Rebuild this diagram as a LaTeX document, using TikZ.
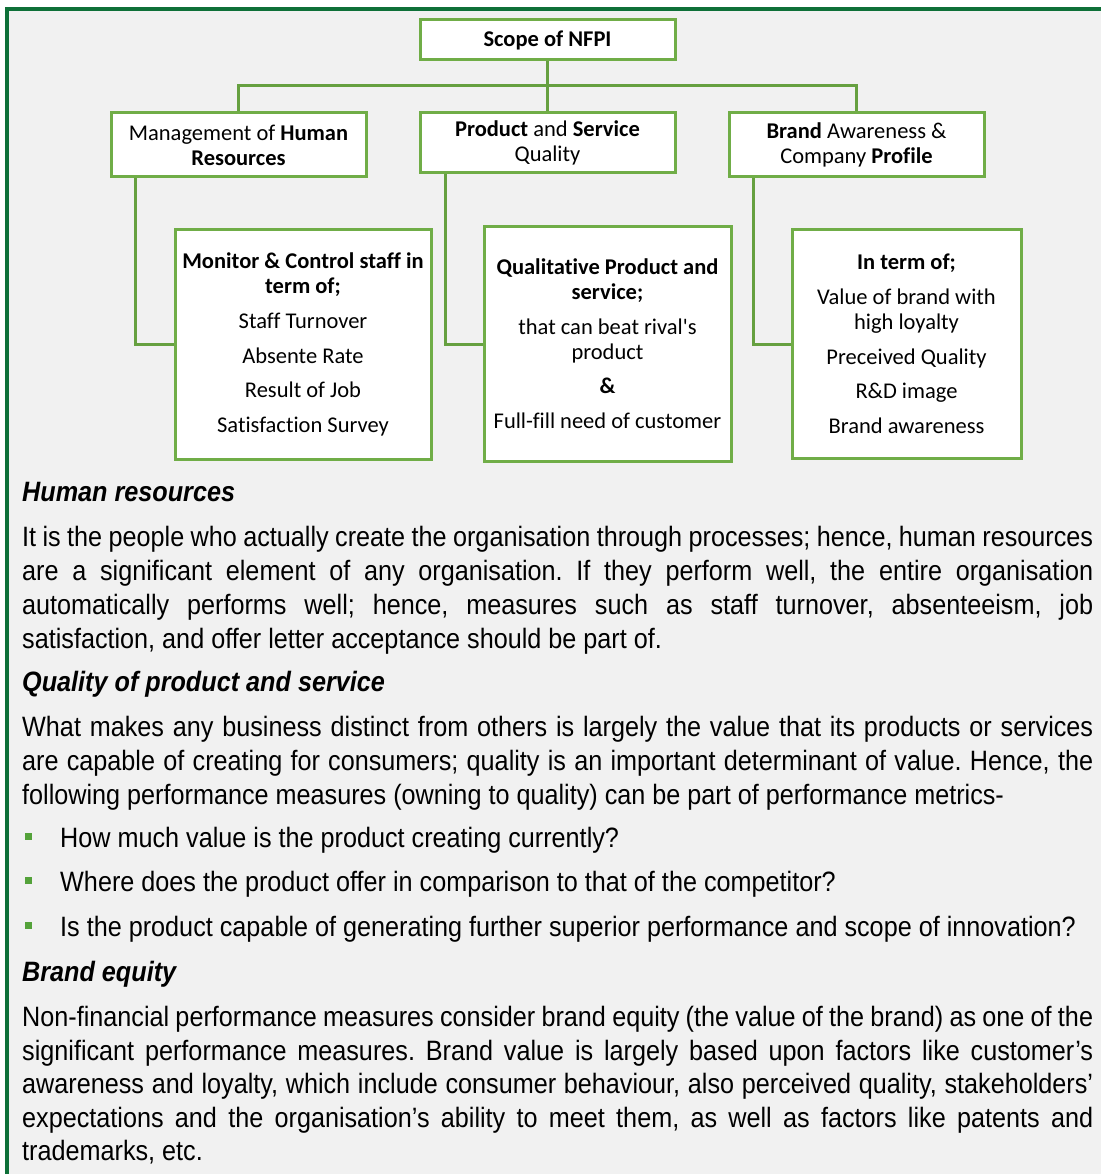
\documentclass[tikz,border=0pt]{standalone}
\usepackage{fontspec}
\setmainfont{Carlito}[Ligatures=NoCommon]
\newfontfamily\narrow[FakeStretch=0.9]{Liberation Sans}
\usetikzlibrary{calc}
\definecolor{framegreen}{RGB}{14,112,56}
\definecolor{boxg}{RGB}{112,173,71}
\definecolor{lineg}{RGB}{102,160,64}
\definecolor{bulg}{RGB}{84,162,58}
\definecolor{bggray}{RGB}{241,241,241}
\newcommand\jline[1]{\makebox[1071pt][s]{#1}}
\frenchspacing
\begin{document}
\begin{tikzpicture}[x=1pt,y=-1pt,
  box/.style={draw=boxg,line width=3pt,fill=white,align=center,inner sep=0pt,
    font=\fontsize{22.5}{25}\selectfont},
  conn/.style={draw=lineg,line width=3pt},
  txt/.style={anchor=base west,inner sep=0pt,font=\narrow\fontsize{28}{34}\selectfont},
  hd/.style={anchor=base west,inner sep=0pt,font=\narrow\fontsize{28}{34}\selectfont\bfseries\itshape},
  bul/.style={fill=bulg,minimum size=7pt,inner sep=0pt}]
\useasboundingbox (0,0) rectangle (1101,1174);
\fill[white] (0,0) rectangle (1101,1174);
\fill[bggray] (7,9) rectangle (1101,1174);
\draw[framegreen,line width=4pt] (7,1174) -- (7,9) -- (1101,9);

% boxes
\node[box,minimum width=255pt,minimum height=40pt] (scope) at (547.5,40) {\textbf{Scope of NFPI}};
\node[box,minimum width=255pt,minimum height=64pt] (hr) at (238.5,145) {Management of \textbf{Human}\\\textbf{Resources}};
\node[box,minimum width=255pt,minimum height=60pt] (prod) at (547.5,143) {\textbf{Product} and \textbf{Service}\\Quality};
\node[box,minimum width=255pt,minimum height=64pt] (brand) at (856.5,145) {\textbf{Brand} Awareness \&\\Company \textbf{Profile}};

\node[box,minimum width=256pt,minimum height=229pt] (monitor) at (303,344.5)
  {\textbf{Monitor \& Control staff in}\\\textbf{term of;}\\[10pt]Staff Turnover\\[10pt]Absente Rate\\[9pt]Result of Job\\[10pt]Satisfaction Survey};
\node[box,minimum width=247pt,minimum height=234pt] (qual) at (607.5,344)
  {\textbf{Qualitative Product and}\\\textbf{service;}\\[10pt]that can beat rival\textquotesingle s\\product\\[9pt]\textbf{\&}\\[10pt]Full-fill need of customer};
\node[box,minimum width=229pt,minimum height=228pt] (interm) at (906.5,344)
  {\textbf{In term of;}\\[10pt]Value of brand with\\high loyalty\\[10pt]Preceived Quality\\[9pt]R\&D image\\[10pt]Brand awareness};

% connectors
\coordinate (bus) at (547.5,86);
\draw[conn] (scope.south) -- (prod.north);
\draw[conn] (hr.north) |- (bus) -| (brand.north);
\draw[conn] ($(hr.south west)+(26,0)$) |- (monitor.west);
\draw[conn] ($(prod.south west)+(27,0)$) |- (qual.west);
\draw[conn] ($(brand.south west)+(26,0)$) |- (interm.west);

% text
\node[hd] (h1) at (22,501) {Human resources};
\node[txt] (p1a) at (22,546) {\jline{It is the people who actually create the organisation through processes; hence, human resources}};
\node[txt] (p1b) at (22,580) {\jline{are a significant element of any organisation. If they perform well, the entire organisation}};
\node[txt] (p1c) at (22,614) {\jline{automatically performs well; hence, measures such as staff turnover, absenteeism, job}};
\node[txt] (p1d) at (22,648) {satisfaction, and offer letter acceptance should be part of.};

\node[hd] (h2) at (22,691) {Quality of product and service};
\node[txt] (p2a) at (22,736) {\jline{What makes any business distinct from others is largely the value that its products or services}};
\node[txt] (p2b) at (22,770) {\jline{are capable of creating for consumers; quality is an important determinant of value. Hence, the}};
\node[txt] (p2c) at (22,804) {following performance measures (owning to quality) can be part of performance metrics-};

\node[bul] (b1) at (28.5,836.5) {};
\node[txt] (l1) at (60,847) {How much value is the product creating currently?};
\node[bul] (b2) at (28.5,880.5) {};
\node[txt] (l2) at (60,891) {Where does the product offer in comparison to that of the competitor?};
\node[bul] (b3) at (28.5,925.5) {};
\node[txt] (l3) at (60,936) {Is the product capable of generating further superior performance and scope of innovation?};

\node[hd] (h3) at (22,981) {Brand equity};
\node[txt] (p3a) at (22,1026) {\jline{Non-financial performance measures consider brand equity (the value of the brand) as one of the}};
\node[txt] (p3b) at (22,1060) {\jline{significant performance measures. Brand value is largely based upon factors like customer’s}};
\node[txt] (p3c) at (22,1093) {\jline{awareness and loyalty, which include consumer behaviour, also perceived quality, stakeholders’}};
\node[txt] (p3d) at (22,1127) {\jline{expectations and the organisation’s ability to meet them, as well as factors like patents and}};
\node[txt] (p3e) at (22,1160) {trademarks, etc.};
\end{tikzpicture}
\end{document}
